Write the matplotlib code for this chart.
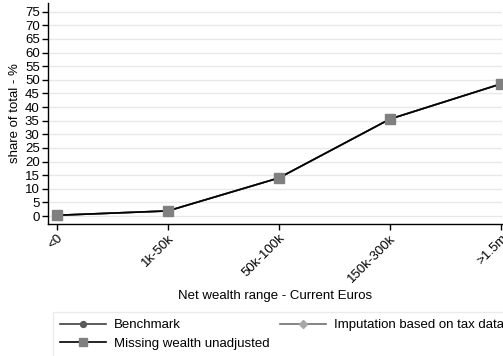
import matplotlib
matplotlib.use("Agg")
import matplotlib.pyplot as plt
import numpy as np

plt.rcParams['font.family'] = ['Liberation Sans', 'DejaVu Sans']

categories = ["<0", "1k-50k", "50k-100k", "150k-300k", ">1.5m"]
benchmark = [0.3, 1.9, 14.0, 35.6, 48.5]
imputation = [0.3, 1.9, 14.0, 35.6, 48.5]
missing_unadj = [0.3, 1.9, 14.0, 35.6, 48.5]
yticks = list(range(0, 80, 5))

FS = 9.5
fig = plt.figure(figsize=(5.03, 3.56), dpi=100)
ax = fig.add_axes([48/503, 1-224/356, (502-48)/503, (224-3)/356])
x = np.arange(len(categories))

h1, = ax.plot(x, benchmark, color='#404040', lw=1.2, marker='o', ms=5, mfc='#5a5a5a', mec='#5a5a5a', label='Benchmark', zorder=3)
h2, = ax.plot(x, imputation, color='#6e6e6e', lw=1.2, marker='D', ms=4.5, mfc='#a8a8a8', mec='#a8a8a8', label='Imputation based on tax data', zorder=4)
h3, = ax.plot(x, missing_unadj, color='black', lw=1.2, marker='s', ms=6.5, mfc='#808080', mec='#808080', label='Missing wealth unadjusted', zorder=5)

ax.set_xlim(-0.08, 4.01)
ax.set_ylim(-2.9, 78.2)
ax.set_yticks(yticks)
ax.set_yticklabels([str(v) for v in yticks], fontsize=FS)
ax.set_xticks(x)
ax.set_xticklabels(categories, rotation=45, ha='right', rotation_mode='anchor', fontsize=FS)
ax.yaxis.grid(True, color='#e8e8e8', lw=1.0)
ax.set_axisbelow(True)
for s in ['top', 'right']:
    ax.spines[s].set_visible(False)
ax.spines['left'].set_linewidth(1.0)
ax.spines['bottom'].set_linewidth(1.0)
ax.tick_params(axis='both', length=4, width=1, pad=2)
ax.set_ylabel('share of total - %', fontsize=FS, labelpad=3)
ax.set_xlabel('Net wealth range - Current Euros', fontsize=FS, labelpad=4)

leg = fig.legend([h1, h3, h2], [h1.get_label(), h3.get_label(), h2.get_label()],
                 loc='upper left', bbox_to_anchor=(53/503, 1-312/356),
                 ncol=2, fontsize=FS, frameon=True, fancybox=False,
                 edgecolor='#e6e6e6', handlelength=3.5, borderpad=0.55, labelspacing=0.45,
                 columnspacing=0.75, handletextpad=0.6, borderaxespad=0, markerscale=0.85)
leg.get_frame().set_linewidth(1.0)

fig.savefig('out.png', dpi=100)
